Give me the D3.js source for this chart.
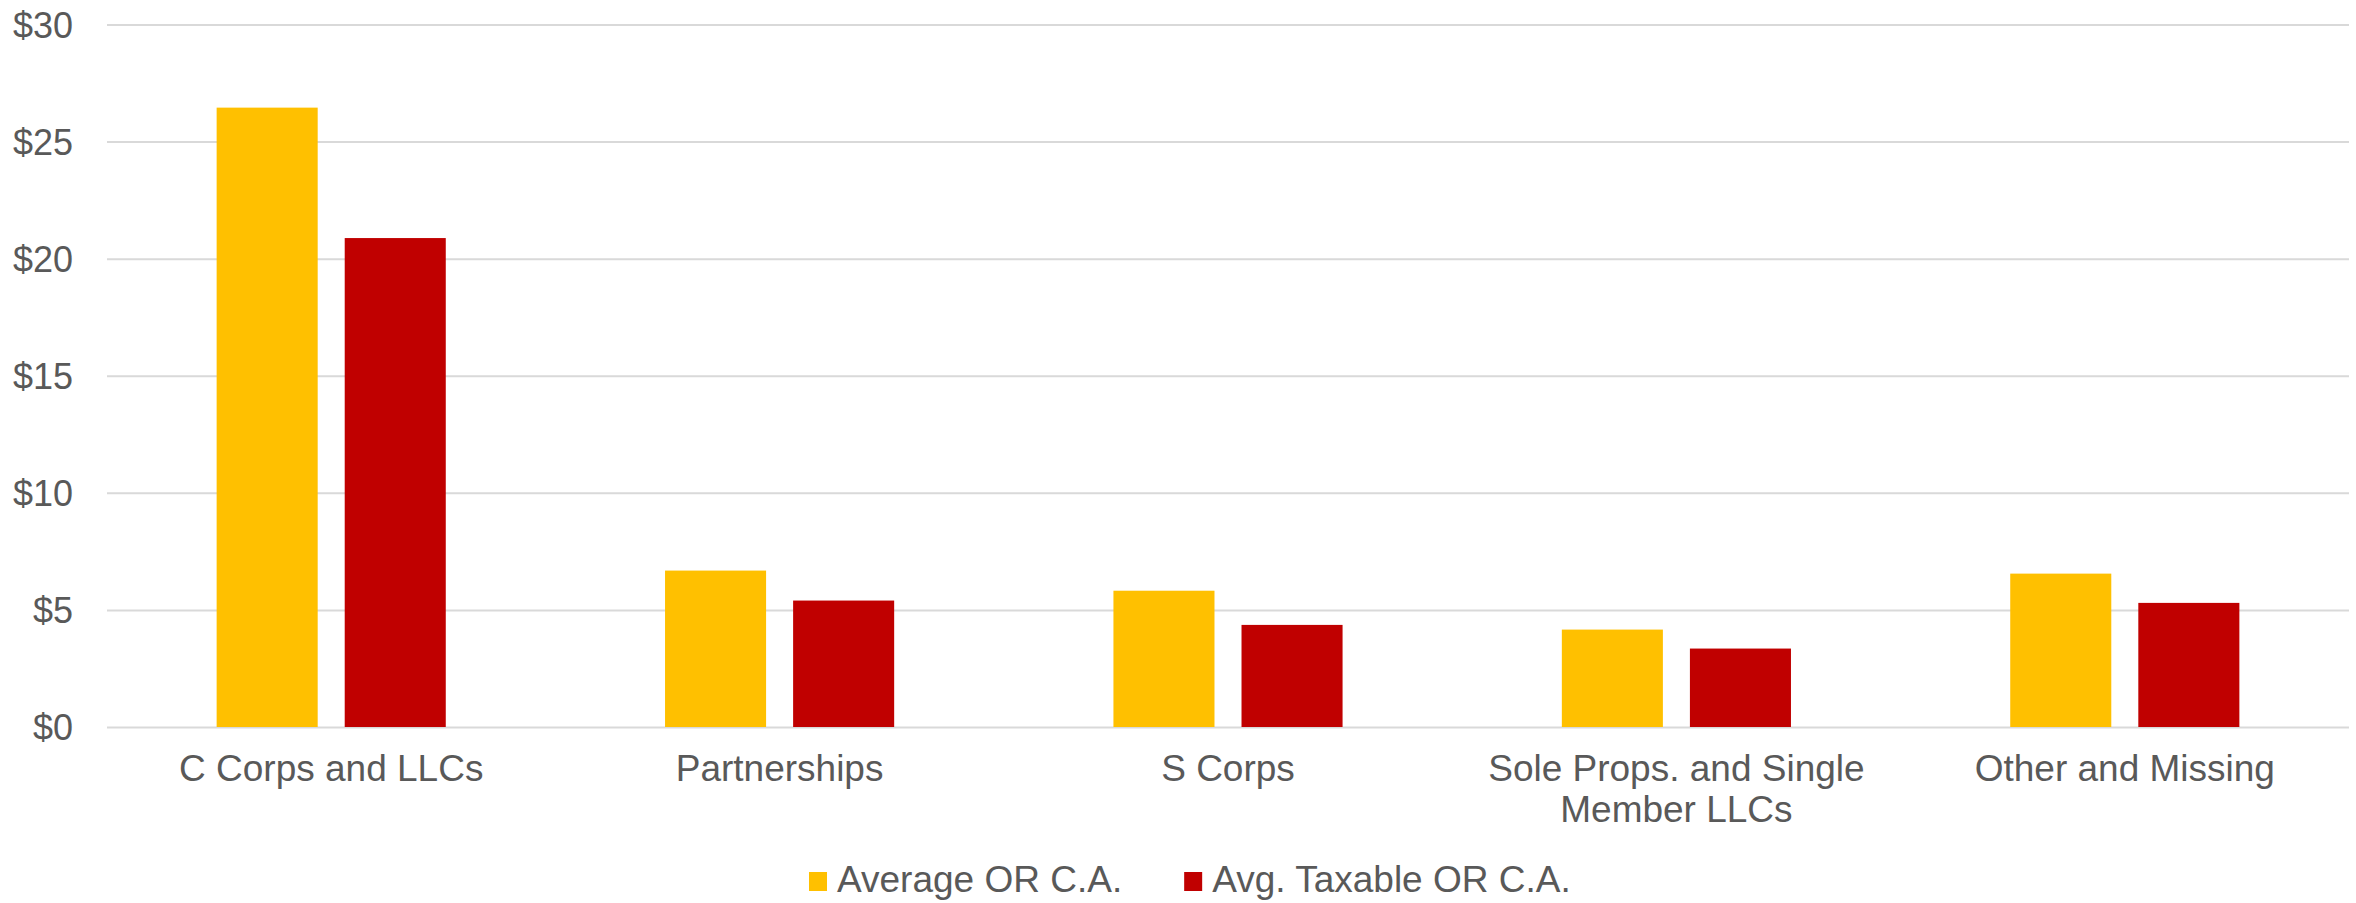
<!DOCTYPE html>
<html>
<head>
<meta charset="utf-8">
<script src="https://cdn.jsdelivr.net/npm/d3@7"></script>
<style>
  html, body { margin: 0; padding: 0; background: #fff; }
  svg { display: block; }
  text { font-family: "Liberation Sans", Arial, sans-serif; fill: #595959; }
</style>
</head>
<body>
<svg id="chart" width="2356" height="903"></svg>
<script>
const categories = ["C Corps and LLCs", "Partnerships", "S Corps", "Sole Props. and Single Member LLCs", "Other and Missing"];
const seriesNames = ["Average OR C.A.", "Avg. Taxable OR C.A."];
const averageOR = [26.45, 6.68, 5.82, 4.16, 6.55];
const avgTaxableOR = [20.88, 5.40, 4.36, 3.35, 5.30];
const yTicks = [0, 5, 10, 15, 20, 25, 30];
const colors = ["#FFC000", "#C00000"];

(function () {
const svg = d3.select("#chart");
const plotLeft = 107, plotRight = 2349, plotTop = 24.5, plotBottom = 727;
const yFont = 36, xFont = 37, legFont = 37;

const x0 = d3.scaleBand().domain(categories).range([plotLeft, plotRight])
  .paddingInner(0.489).paddingOuter(0.2445);
const x1 = d3.scaleBand().domain(seriesNames).range([0, x0.bandwidth()])
  .paddingInner(0.211).paddingOuter(0);
const y = d3.scaleLinear().domain([0, 30]).range([plotBottom, plotTop]);
const color = d3.scaleOrdinal().domain(seriesNames).range(colors);

// gridlines
const grid = d3.axisLeft(y).tickValues(yTicks).tickSize(-(plotRight - plotLeft)).tickFormat("");
svg.append("g").attr("transform", `translate(${plotLeft},0)`).call(grid)
  .call(g => g.select(".domain").remove())
  .call(g => g.selectAll("line").attr("stroke", "#D9D9D9").attr("stroke-width", 2));

// y axis labels
const yAxis = d3.axisLeft(y).tickValues(yTicks).tickSize(0).tickPadding(0).tickFormat(d => "$" + d);
svg.append("g").attr("transform", `translate(73,0)`).call(yAxis)
  .call(g => g.select(".domain").remove())
  .call(g => g.selectAll("text").attr("font-size", yFont).attr("fill", "#595959")
    .attr("font-family", "Liberation Sans, Arial, sans-serif").attr("dy", "0.35em"));

// bars
const data = categories.map((c, i) => ({ cat: c, vals: [averageOR[i], avgTaxableOR[i]] }));
const groups = svg.append("g").selectAll("g").data(data).join("g")
  .attr("transform", d => `translate(${x0(d.cat)},0)`);
groups.selectAll("rect").data(d => d.vals.map((v, j) => ({ s: seriesNames[j], v })))
  .join("rect")
  .attr("x", d => x1(d.s))
  .attr("width", x1.bandwidth())
  .attr("y", d => y(d.v))
  .attr("height", d => y(0) - y(d.v))
  .attr("fill", d => color(d.s));

// x axis labels with wrapping
const xAxis = d3.axisBottom(x0).tickSize(0).tickPadding(0);
const xg = svg.append("g").attr("transform", `translate(0,${plotBottom})`).call(xAxis);
xg.select(".domain").remove();
xg.selectAll("text").attr("font-size", xFont).attr("fill", "#595959")
  .attr("font-family", "Liberation Sans, Arial, sans-serif")
  .attr("y", 0).attr("dy", 0)
  .each(function(d) {
    const t = d3.select(this);
    const words = d.split(" ");
    t.text(null);
    const maxW = x0.step() - 20;
    let line = [];
    let lineNo = 0;
    let tspan = t.append("tspan").attr("x", 0).attr("y", 54);
    for (const w of words) {
      line.push(w);
      tspan.text(line.join(" "));
      if (tspan.node().getComputedTextLength() > maxW && line.length > 1) {
        line.pop();
        tspan.text(line.join(" "));
        line = [w];
        lineNo++;
        tspan = t.append("tspan").attr("x", 0).attr("y", 54 + lineNo * 41).text(w);
      }
    }
  });

// legend
const legend = svg.append("g");
let lx = 809;
seriesNames.forEach((s, i) => {
  legend.append("rect").attr("x", lx).attr("y", 872).attr("width", 18).attr("height", 19).attr("fill", color(s));
  const t = legend.append("text").attr("x", lx + 28).attr("y", 892).attr("font-size", legFont).text(s);
  lx = lx + 28 + t.node().getComputedTextLength() + 62;
});
})();
</script>
</body>
</html>
